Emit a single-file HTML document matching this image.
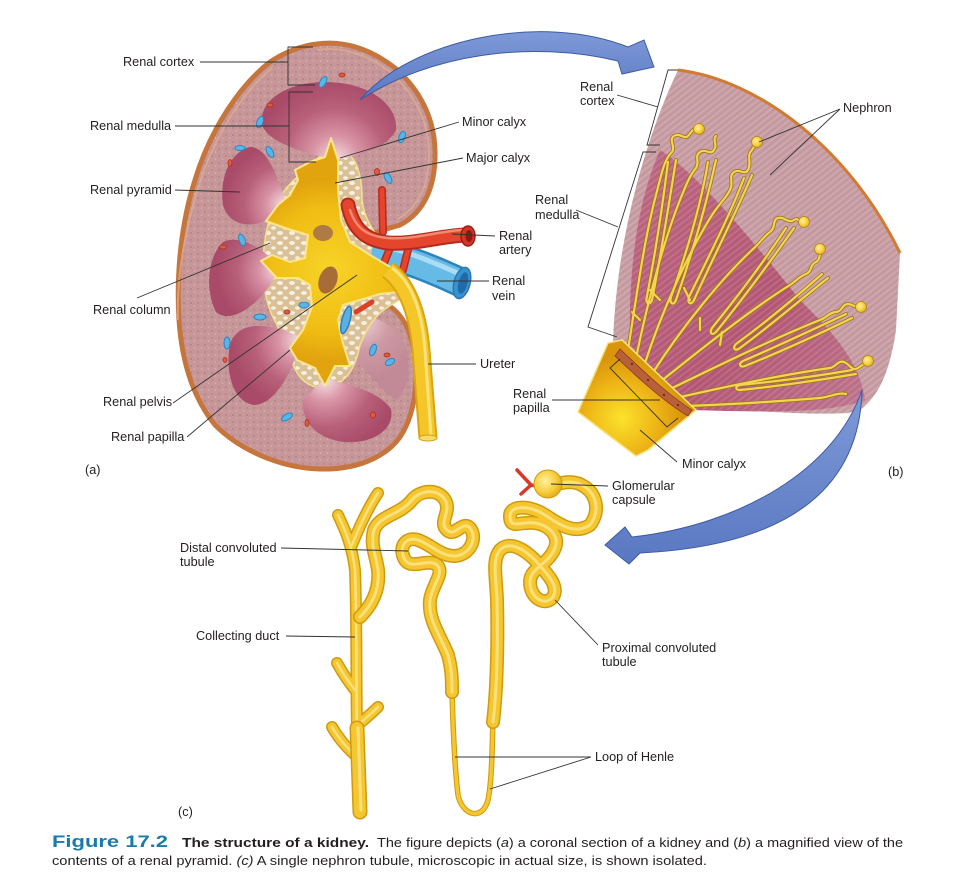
<!DOCTYPE html>
<html><head><meta charset="utf-8"><style>
html,body{margin:0;padding:0;background:#fff;}
svg{display:block;}
text{font-family:"Liberation Sans",Arial,sans-serif;fill:#231f20;font-size:12.7px;}
</style></head><body>
<svg width="977" height="893" viewBox="0 0 977 893" xmlns="http://www.w3.org/2000/svg">
<defs>
 <pattern id="speck" width="7" height="7" patternUnits="userSpaceOnUse">
  <rect width="7" height="7" fill="#c69698"/>
  <circle cx="2" cy="2" r="0.9" fill="#b07e84"/>
  <circle cx="5.5" cy="5" r="0.8" fill="#d8b4b6"/>
 </pattern>
 <pattern id="fat" width="12" height="10" patternUnits="userSpaceOnUse">
  <rect width="12" height="10" fill="#d9c096"/>
  <ellipse cx="4" cy="3" rx="3" ry="2" fill="#f7efdf"/>
  <ellipse cx="9.5" cy="8" rx="2.4" ry="1.7" fill="#f7efdf"/>
 </pattern>
 <pattern id="stri" width="5" height="40" patternUnits="userSpaceOnUse" patternTransform="rotate(52)">
  <rect width="1.3" height="40" fill="#ffffff" opacity="0.12"/>
  <rect x="2.6" width="1" height="40" fill="#6a3048" opacity="0.10"/>
 </pattern>
 <radialGradient id="p1" gradientUnits="userSpaceOnUse" cx="335" cy="160" r="80">
  <stop offset="0" stop-color="#f4e2e4"/><stop offset="0.3" stop-color="#d994a6"/><stop offset="0.65" stop-color="#b8607a"/><stop offset="1" stop-color="#a84a68"/></radialGradient>
 <radialGradient id="p2" gradientUnits="userSpaceOnUse" cx="285" cy="205" r="62">
  <stop offset="0" stop-color="#f4e2e4"/><stop offset="0.3" stop-color="#d994a6"/><stop offset="0.65" stop-color="#b8607a"/><stop offset="1" stop-color="#a84a68"/></radialGradient>
 <radialGradient id="p3" gradientUnits="userSpaceOnUse" cx="278" cy="270" r="62">
  <stop offset="0" stop-color="#f4e2e4"/><stop offset="0.3" stop-color="#d994a6"/><stop offset="0.65" stop-color="#b8607a"/><stop offset="1" stop-color="#a84a68"/></radialGradient>
 <radialGradient id="p4" gradientUnits="userSpaceOnUse" cx="300" cy="340" r="70">
  <stop offset="0" stop-color="#f4e2e4"/><stop offset="0.3" stop-color="#d994a6"/><stop offset="0.65" stop-color="#b8607a"/><stop offset="1" stop-color="#a84a68"/></radialGradient>
 <radialGradient id="p5" gradientUnits="userSpaceOnUse" cx="325" cy="380" r="72">
  <stop offset="0" stop-color="#f4e2e4"/><stop offset="0.3" stop-color="#d994a6"/><stop offset="0.65" stop-color="#b8607a"/><stop offset="1" stop-color="#a84a68"/></radialGradient>
 <radialGradient id="p6" gradientUnits="userSpaceOnUse" cx="360" cy="320" r="60">
  <stop offset="0" stop-color="#ecd6d8"/><stop offset="0.5" stop-color="#cf9aa4"/><stop offset="1" stop-color="#c28a96"/></radialGradient>
 <radialGradient id="pel" gradientUnits="userSpaceOnUse" cx="330" cy="270" r="90">
  <stop offset="0" stop-color="#f8d428"/><stop offset="0.7" stop-color="#f0bc14"/><stop offset="1" stop-color="#e2a40e"/></radialGradient>
 <radialGradient id="calG" gradientUnits="userSpaceOnUse" cx="622" cy="418" r="60">
  <stop offset="0" stop-color="#fbe22c"/><stop offset="0.6" stop-color="#eeb416"/><stop offset="1" stop-color="#d9960c"/></radialGradient>
 <radialGradient id="glo" cx="0.4" cy="0.4" r="0.7">
  <stop offset="0" stop-color="#fff0a0"/><stop offset="0.6" stop-color="#f6cc38"/><stop offset="1" stop-color="#d8a010"/></radialGradient>
 <linearGradient id="arrG" x1="0" y1="0" x2="0" y2="1">
  <stop offset="0" stop-color="#7e9ad8"/><stop offset="1" stop-color="#5a78c2"/></linearGradient>
 <linearGradient id="medG" x1="0" y1="0" x2="1" y2="1">
  <stop offset="0" stop-color="#c06a84"/><stop offset="0.6" stop-color="#b55876"/><stop offset="1" stop-color="#c07890"/></linearGradient>

 <g id="bNeph">
  <path d="M628,350 C636,300 644,240 656,195 C662,172 664,160 672,152 C676,146 668,140 674,136 C680,132 684,140 688,136 C692,131 694,128 698,128"/>
  <path d="M636,358 C648,300 664,240 680,200 C686,185 690,175 696,168 C700,162 694,156 700,152 C706,148 710,156 714,150 C718,144 712,140 716,136"/>
  <path d="M644,366 C662,310 690,250 712,215 C720,203 726,198 730,190 C734,182 728,176 734,172 C740,168 744,176 748,170 C752,162 746,156 752,150 C754,146 756,144 757,142"/>
  <path d="M652,374 C680,330 720,280 752,250 C760,243 764,236 770,232 C776,228 772,220 778,218 C784,216 788,224 794,220 C800,216 798,226 803,222"/>
  <path d="M660,382 C700,350 750,310 790,285 C796,281 800,276 806,274 C812,272 810,264 816,262 C820,260 820,254 820,250"/>
  <path d="M668,390 C710,370 770,340 820,320 C826,318 830,312 836,312 C842,312 842,304 848,304 C852,304 856,308 860,307"/>
  <path d="M676,398 C720,388 780,375 830,368 C836,367 838,360 844,362 C850,364 852,372 858,368 C862,365 864,364 867,362"/>
  <path d="M684,406 C720,405 770,402 820,398 C830,397 838,392 846,394"/>
  <path d="M676,160 C668,210 660,260 652,300 C650,306 645,304 647,296 C654,260 662,210 668,162"/>
  <path d="M716,160 C705,210 690,260 676,300 C674,306 669,304 671,297 C684,260 700,210 708,162"/>
  <path d="M752,175 C735,215 712,260 694,300 C691,306 687,303 689,297 C708,258 730,215 744,178"/>
  <path d="M794,228 C770,262 742,300 716,332 C712,336 709,333 712,328 C738,296 765,260 786,228"/>
  <path d="M828,278 C800,300 770,326 740,348 C735,352 732,348 736,344 C766,322 795,298 822,274"/>
  <path d="M852,318 C815,336 780,352 745,366 C740,368 738,364 743,361 C778,346 812,330 846,314"/>
  <path d="M856,374 C820,380 780,386 740,390 C735,390 735,386 740,385 C780,381 818,376 852,370"/>
  <path d="M640,320 L632,312 M660,300 L650,290 M690,300 L684,288 M700,330 L700,318 M720,345 L722,332"/>
 </g>

 <g id="tubeBig">
  <path d="M360,617 C372,605 380,590 378,570 C376,555 370,545 374,530 C380,515 400,515 412,500 C420,490 438,488 445,500 C452,512 438,522 447,530 C455,538 462,520 470,528 C478,538 470,555 455,556 C440,556 432,545 418,540 C405,536 398,548 405,560 C412,570 428,558 437,565 C445,573 432,585 430,600 C428,620 440,635 448,655 C452,670 452,680 452,692"/>
  <path d="M493,722 C497,690 498,640 497,600 C496,575 492,560 500,550 C510,540 525,550 535,560 C545,572 560,585 553,597 C545,607 530,598 530,582 C530,568 548,565 555,548 C560,535 548,525 535,523 C520,521 510,530 510,516 C510,505 530,505 545,515 C560,525 575,535 590,525 C600,512 597,495 585,487 C575,480 565,482 558,484"/>
 </g>
 <g id="tubeDuct">
  <path d="M338,515 C345,530 352,545 355,570 C357,620 356,680 357,730"/>
  <path d="M352,545 C360,525 370,505 378,493"/>
  <path d="M337,663 C342,672 347,680 355,690"/>
  <path d="M378,707 C372,713 366,718 358,725"/>
  <path d="M332,727 C338,737 344,745 355,755"/>
 </g>
</defs>

<!-- ============ KIDNEY (a) ============ -->
<path d="M317,44 C345,40 372,50 395,68 C420,90 434,118 435,150 C436,185 425,212 400,225 C390,228 382,230 376,232 L376,300 C395,305 405,320 410,335 C420,365 418,410 400,437 C385,458 355,470 320,469 C280,468 240,450 215,425 C195,400 182,365 179,320 C176,270 182,220 195,180 C210,130 240,85 270,62 C285,52 300,46 317,44 Z" fill="url(#speck)" stroke="#c6763c" stroke-width="5"/>
<path d="M317,50 C345,46 370,56 390,72 C414,93 428,120 429,150 C430,182 420,206 398,219 M178,320 C176,270 188,220 200,182 C215,135 243,92 272,68" fill="none" stroke="#dfae90" stroke-width="2" opacity="0.7"/>
<!-- lower lobe lighter area -->
<path d="M345,318 C370,312 395,322 405,345 C412,370 408,392 395,400 C375,385 355,360 345,335 Z" fill="url(#p6)"/>
<!-- sinus fat (behind pyramids) -->
<path d="M335,150 C355,150 362,170 362,200 C365,225 380,240 395,255 L400,300 C380,310 370,320 360,345 C355,370 345,385 325,388 C305,388 295,375 290,355 C285,335 275,325 270,310 C262,290 262,260 265,240 C268,215 280,190 300,175 C315,160 325,150 335,150 Z" fill="url(#fat)" stroke="#f4e08a" stroke-width="1.5"/>
<!-- pyramids -->
<path d="M335,160 C300,152 268,142 262,125 C258,100 288,82 325,82 C368,82 398,104 396,130 C388,147 360,156 335,160 Z" fill="url(#p1)"/>
<path d="M287,205 C262,232 230,230 223,205 C219,178 230,152 250,147 C267,147 277,175 287,205 Z" fill="url(#p2)"/>
<path d="M280,268 C264,302 232,326 216,312 C205,290 207,258 223,242 C240,234 264,248 280,268 Z" fill="url(#p3)"/>
<path d="M302,338 C292,372 276,404 254,405 C232,402 225,370 230,344 C238,322 266,320 302,338 Z" fill="url(#p4)"/>
<path d="M325,378 C347,385 378,390 391,409 C395,430 372,444 345,442 C316,439 301,421 303,400 Z" fill="url(#p5)"/>

<!-- vein -->
<path d="M372,252 C400,256 430,268 462,283" fill="none" stroke="#2b84c0" stroke-width="30"/>
<path d="M372,252 C400,256 430,268 462,283" fill="none" stroke="#66bae6" stroke-width="25"/>
<path d="M380,246 C405,250 432,262 460,274" fill="none" stroke="#aadcf4" stroke-width="5"/>
<ellipse cx="462" cy="283" rx="8" ry="16" fill="#3a92cc" stroke="#2a78b4" stroke-width="1.5" transform="rotate(15 462 283)"/>
<ellipse cx="463" cy="283" rx="4.5" ry="11" fill="#1f6aa8" transform="rotate(15 463 283)"/>

<!-- artery -->
<g fill="none" stroke-linecap="round">
 <path d="M382,190 L383,232" stroke="#b82a1e" stroke-width="8"/>
 <path d="M382,190 L383,232" stroke="#e5452c" stroke-width="5"/>
 <path d="M392,243 L382,268 M410,242 L403,270" stroke="#b82a1e" stroke-width="8"/>
 <path d="M392,243 L382,268 M410,242 L403,270" stroke="#e5452c" stroke-width="5"/>
 <path d="M348,205 C352,225 362,240 388,243 C412,245 440,236 466,235" stroke="#b42a1e" stroke-width="15"/>
 <path d="M348,205 C352,225 362,240 388,243 C412,245 440,236 466,235" stroke="#e5452c" stroke-width="11"/>
 <path d="M350,210 C356,228 366,236 388,238 C412,240 440,231 462,230" stroke="#f28a70" stroke-width="2.5"/>
</g>
<ellipse cx="468" cy="236" rx="7" ry="10" fill="#d43424" stroke="#9a1e14" stroke-width="1.5"/>
<ellipse cx="469" cy="236" rx="3.5" ry="6" fill="#8a1a12"/>

<!-- pelvis -->
<path d="M331,138 L338,160 L338,190 L341,220 L350,242 L370,255 L392,268 L398,292 L380,294 L360,300 L343,305 L338,320 L342,340 L350,366 L335,366 L325,386 L315,368 L297,360 L290,348 L303,330 L312,307 L310,285 L298,278 L277,278 L261,261 L272,255 L290,262 L305,258 L308,235 L285,228 L266,221 L278,205 L290,195 L298,180 L295,170 L310,162 L325,157 Z" fill="url(#pel)" stroke="#fbe690" stroke-width="2" stroke-linejoin="round"/>
<!-- ureter -->
<path d="M388,270 C408,285 418,315 421,350 L428,438" fill="none" stroke="#dca412" stroke-width="19" stroke-linecap="butt"/>
<path d="M388,270 C408,285 418,315 421,350 L428,438" fill="none" stroke="#f4c628" stroke-width="15"/>
<path d="M392,268 C412,282 422,312 425,350 L431,436" fill="none" stroke="#fbe27a" stroke-width="3"/>
<ellipse cx="428" cy="438" rx="9" ry="3" fill="#f8dc6a" stroke="#d9a012" stroke-width="1"/>
<!-- stones -->
<ellipse cx="323" cy="233" rx="10" ry="8" fill="#b07a44"/>
<ellipse cx="328" cy="280" rx="9" ry="14" fill="#a86c38" transform="rotate(20 328 280)"/>
<!-- lower inner vessels -->
<ellipse cx="346" cy="320" rx="4" ry="14" fill="#5ab0e0" stroke="#2a80c0" stroke-width="1.5" transform="rotate(15 346 320)"/>
<path d="M356,312 L372,302" stroke="#d8402a" stroke-width="5" stroke-linecap="round"/>

<!-- scattered vessels -->
<g fill="#5ab4e4" stroke="#2a86c4" stroke-width="1">
 <ellipse cx="323" cy="82" rx="3" ry="6" transform="rotate(30 323 82)"/>
 <ellipse cx="260" cy="122" rx="3" ry="6" transform="rotate(20 260 122)"/>
 <ellipse cx="240" cy="148" rx="5" ry="2.5"/>
 <ellipse cx="270" cy="152" rx="3" ry="6" transform="rotate(-30 270 152)"/>
 <ellipse cx="402" cy="137" rx="3" ry="6" transform="rotate(20 402 137)"/>
 <ellipse cx="388" cy="178" rx="3" ry="6" transform="rotate(-30 388 178)"/>
 <ellipse cx="242" cy="240" rx="3" ry="6" transform="rotate(-20 242 240)"/>
 <ellipse cx="260" cy="317" rx="6" ry="3"/>
 <ellipse cx="227" cy="343" rx="3" ry="6"/>
 <ellipse cx="373" cy="350" rx="3" ry="6" transform="rotate(20 373 350)"/>
 <ellipse cx="390" cy="362" rx="5" ry="3" transform="rotate(-30 390 362)"/>
 <ellipse cx="287" cy="417" rx="6" ry="3" transform="rotate(-30 287 417)"/>
 <ellipse cx="304" cy="305" rx="5" ry="3"/>
</g>
<g fill="#e05a40" stroke="#a83020" stroke-width="0.8">
 <ellipse cx="342" cy="75" rx="3" ry="2"/>
 <ellipse cx="270" cy="105" rx="3" ry="2"/>
 <ellipse cx="230" cy="163" rx="2" ry="3.5"/>
 <ellipse cx="377" cy="172" rx="2.5" ry="3.5"/>
 <ellipse cx="223" cy="247" rx="3.5" ry="2"/>
 <ellipse cx="287" cy="312" rx="3" ry="2"/>
 <ellipse cx="225" cy="360" rx="2" ry="2.5"/>
 <ellipse cx="387" cy="355" rx="3" ry="2"/>
 <ellipse cx="307" cy="423" rx="2" ry="3.5"/>
 <ellipse cx="373" cy="415" rx="2.5" ry="3"/>
</g>

<!-- ============ TOP ARROW (over kidney) ============ -->
<path d="M360,100 C410,40 540,12 628,47 L644,40 L654,67 L622,74 L618,61 C530,40 430,54 360,100 Z" fill="url(#arrG)" stroke="#3d5aa4" stroke-width="1"/>

<!-- ============ WEDGE (b) ============ -->
<path d="M678,70 C760,80 850,150 900,253 L896,330 C890,370 880,395 860,410 L848,413 C800,416 740,408 690,410 L613,343 C616,250 640,150 678,70 Z" fill="#c89ea4"/>
<path d="M630,345 C628,260 640,195 660,150 C700,175 760,250 800,300 C830,330 860,360 865,400 C830,414 760,412 690,410 Z" fill="url(#medG)"/>
<path d="M678,70 C760,80 850,150 900,253 L896,330 C890,370 880,395 860,410 L848,413 C800,416 740,408 690,410 L613,343 C616,250 640,150 678,70 Z" fill="url(#stri)"/>
<path d="M678,70 C760,80 850,150 900,253" fill="none" stroke="#d27a30" stroke-width="3"/>
<use href="#bNeph" fill="none" stroke="#9a7420" stroke-width="3.8" stroke-linecap="round" stroke-linejoin="round"/>
<use href="#bNeph" fill="none" stroke="#f5d54e" stroke-width="2.2" stroke-linecap="round" stroke-linejoin="round"/>
<g fill="url(#glo)" stroke="#b08418" stroke-width="0.8">
 <circle cx="699" cy="129" r="5.5"/>
 <circle cx="757" cy="142" r="5.5"/>
 <circle cx="804" cy="222" r="5.5"/>
 <circle cx="820" cy="249" r="5.5"/>
 <circle cx="861" cy="307" r="5.5"/>
 <circle cx="868" cy="361" r="5.5"/>
</g>
<!-- calyx -->
<path d="M608,343 L622,340 L696,410 L648,450 L636,456 L578,412 Z" fill="url(#calG)" stroke="#f8e27a" stroke-width="1.5"/>
<path d="M620,349 C640,368 668,395 692,410 L688,416 C664,402 636,376 615,356 Z" fill="#b8603a" stroke="#8a3a20" stroke-width="0.8"/>
<g fill="#7a2a1a"><circle cx="632" cy="364" r="1.2"/><circle cx="648" cy="380" r="1.2"/><circle cx="664" cy="395" r="1.2"/><circle cx="678" cy="405" r="1.2"/></g>

<!-- ============ BOTTOM ARROW ============ -->
<path d="M862,390 C860,480 800,545 640,553 L629,564 L605,545 L625,527 L632,537 C740,525 835,470 862,390 Z" fill="url(#arrG)" stroke="#3d5aa4" stroke-width="1"/>

<!-- ============ NEPHRON (c) ============ -->
<g fill="none" stroke-linecap="round" stroke-linejoin="round">
 <use href="#tubeDuct" stroke="#d09a10" stroke-width="12"/>
 <use href="#tubeDuct" stroke="#f4c630" stroke-width="9"/>
 <use href="#tubeDuct" stroke="#fce07c" stroke-width="2.5"/>
 <path d="M357,728 L360,812" stroke="#d09a10" stroke-width="15"/>
 <path d="M357,728 L360,812" stroke="#f4c630" stroke-width="12"/>
 <path d="M358,728 L361,810" stroke="#fce07c" stroke-width="3"/>
 <path d="M452,690 C453,730 455,770 458,795 C462,815 482,822 488,800 C492,780 492,750 493,720" stroke="#d09a10" stroke-width="5.5"/>
 <path d="M452,690 C453,730 455,770 458,795 C462,815 482,822 488,800 C492,780 492,750 493,720" stroke="#f4c630" stroke-width="3.5"/>
 <use href="#tubeBig" stroke="#d09a10" stroke-width="14"/>
 <use href="#tubeBig" stroke="#f4c630" stroke-width="11"/>
 <use href="#tubeBig" stroke="#fce07c" stroke-width="3"/>
 <path d="M517,470 L531,485 L521,494 M531,485 L541,487" stroke="#d8382a" stroke-width="3.5"/>
</g>
<circle cx="548" cy="484" r="14" fill="url(#glo)" stroke="#d09a10" stroke-width="1"/>

<!-- ============ LEADER LINES ============ -->
<g fill="none" stroke="#333" stroke-width="0.9">
 <path d="M313,47 L288,47 L288,85 L315,85"/>
 <path d="M313,92 L289,92 L289,162 L316,162"/>
 <path d="M200,62 L288,62"/>
 <path d="M175,126 L289,126"/>
 <path d="M175,190 L240,192"/>
 <path d="M137,298 L270,243"/>
 <path d="M173,403 L357,275"/>
 <path d="M187,437 L290,350"/>
 <path d="M459,122 L340,158"/>
 <path d="M463,158 L335,183"/>
 <path d="M495,236 L452,234"/>
 <path d="M489,281 L437,281"/>
 <path d="M476,364 L428,364"/>
 <path d="M678,70 L668,70 L647,145 L660,145"/>
 <path d="M617,95 L658,107"/>
 <path d="M656,152 L643,152 L588,327 L617,337"/>
 <path d="M576,210 L618,227"/>
 <path d="M552,400 L660,400"/>
 <path d="M620,359 L610,368 L667,427 L678,418"/>
 <path d="M640,430 L677,462"/>
 <path d="M840,109 L759,142 M840,109 L770,175"/>
 <path d="M608,486 L551,484"/>
 <path d="M281,548 L408,551"/>
 <path d="M286,636 L355,637"/>
 <path d="M598,645 L555,600"/>
 <path d="M591,757 L455,757 M591,757 L490,789"/>
</g>

<!-- ============ LABELS ============ -->
<text x="123" y="66">Renal cortex</text>
<text x="90" y="130">Renal medulla</text>
<text x="90" y="194">Renal pyramid</text>
<text x="93" y="314">Renal column</text>
<text x="103" y="406">Renal pelvis</text>
<text x="111" y="441">Renal papilla</text>
<text x="462" y="126">Minor calyx</text>
<text x="466" y="162">Major calyx</text>
<text x="499" y="240">Renal</text><text x="499" y="254">artery</text>
<text x="492" y="285">Renal</text><text x="492" y="300">vein</text>
<text x="480" y="368">Ureter</text>
<text x="85" y="474">(a)</text>

<text x="580" y="91">Renal</text><text x="580" y="105">cortex</text>
<text x="535" y="204">Renal</text><text x="535" y="219">medulla</text>
<text x="843" y="112">Nephron</text>
<text x="513" y="398">Renal</text><text x="513" y="412">papilla</text>
<text x="682" y="468">Minor calyx</text>
<text x="888" y="476">(b)</text>

<text x="612" y="490">Glomerular</text><text x="612" y="504">capsule</text>
<text x="180" y="552">Distal convoluted</text><text x="180" y="566">tubule</text>
<text x="196" y="640">Collecting duct</text>
<text x="602" y="652">Proximal convoluted</text><text x="602" y="666">tubule</text>
<text x="595" y="761">Loop of Henle</text>
<text x="178" y="816">(c)</text>

<!-- ============ CAPTION ============ -->
<text x="52" y="847" style="font-size:17px;font-weight:bold;fill:#1c7aaa" textLength="116" lengthAdjust="spacingAndGlyphs">Figure 17.2</text>
<text x="182" y="847" style="font-size:13px;font-weight:bold" textLength="187" lengthAdjust="spacingAndGlyphs">The structure of a kidney.</text>
<text x="377" y="847" style="font-size:13px" textLength="526" lengthAdjust="spacingAndGlyphs">The figure depicts (<tspan font-style="italic">a</tspan>) a coronal section of a kidney and (<tspan font-style="italic">b</tspan>) a magnified view of the</text>
<text x="52" y="865" style="font-size:13px" textLength="655" lengthAdjust="spacingAndGlyphs">contents of a renal pyramid. <tspan font-style="italic">(c)</tspan> A single nephron tubule, microscopic in actual size, is shown isolated.</text>
</svg>
</body></html>
